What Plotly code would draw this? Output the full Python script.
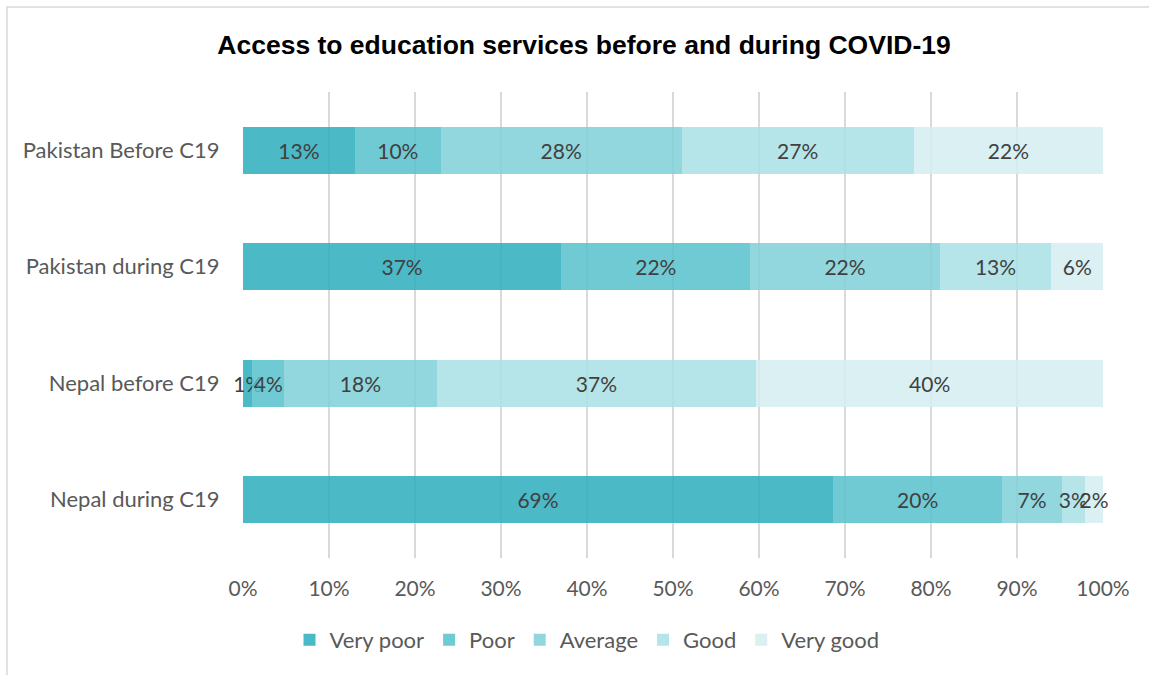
import plotly.graph_objects as go

# Share of respondents rating their access to education services (%)
categories = ["Pakistan Before C19", "Pakistan during C19", "Nepal before C19", "Nepal during C19"]
ratings = ["Very poor", "Poor", "Average", "Good", "Very good"]
very_poor = [13.0, 37.0, 1.1, 68.6]
poor = [10.0, 22.0, 3.7, 19.7]
average = [28.0, 22.0, 17.7, 6.9]
good = [27.0, 13.0, 37.2, 2.7]
very_good = [22.0, 6.0, 40.3, 2.1]
x_ticks = [0, 10, 20, 30, 40, 50, 60, 70, 80, 90, 100]

series = [very_poor, poor, average, good, very_good]
# semi-transparent teal shades so the gridlines show faintly through the bars
colors = [
    "rgba(43,173,188,0.85)",
    "rgba(87,193,205,0.85)",
    "rgba(127,208,216,0.85)",
    "rgba(169,224,229,0.85)",
    "rgba(211,237,240,0.85)",
]

FONT = "Lato, Open Sans, sans-serif"

fig = go.Figure()
for name, vals, col in zip(ratings, series, colors):
    fig.add_trace(go.Bar(
        y=categories,
        x=vals,
        name=name,
        orientation="h",
        marker=dict(color=col, line=dict(width=0)),
        width=0.4,
        text=vals,
        texttemplate="%{x:.0f}%",
        textposition="inside",
        insidetextanchor="middle",
        textangle=0,
        constraintext="none",
        cliponaxis=False,
        textfont=dict(family=FONT, size=21, color="#404040"),
        hoverinfo="skip",
    ))

fig.update_layout(
    barmode="stack",
    width=1149,
    height=675,
    margin=dict(l=243, r=46, t=92, b=117),
    paper_bgcolor="white",
    plot_bgcolor="white",
    title=dict(
        text="<b>Access to education services before and during COVID-19</b>",
        x=584 / 1149,
        xanchor="center",
        xref="container",
        y=1 - 45 / 675,
        yanchor="middle",
        yref="container",
        font=dict(family="Liberation Sans, Arial, sans-serif", size=26.5, color="#000000"),
    ),
    uniformtext=dict(minsize=21, mode="show"),
    showlegend=True,
    legend=dict(
        orientation="h",
        xref="container",
        yref="container",
        x=587 / 1149,
        xanchor="center",
        y=1 - 640 / 675,
        yanchor="middle",
        font=dict(family=FONT, size=22, color="#595959"),
        traceorder="normal",
        itemwidth=30,
    ),
    shapes=[
        dict(
            type="rect",
            xref="paper", yref="paper",
            x0=(7 - 243) / 860, x1=(1170 - 243) / 860,
            y0=(558 - 700) / 466, y1=(558 - 7) / 466,
            line=dict(color="#D9D9D9", width=1.5),
            fillcolor="rgba(0,0,0,0)",
            layer="below",
        )
    ],
)

fig.update_xaxes(
    range=[0, 100],
    tickvals=x_ticks,
    ticktext=[f"{v}%" for v in x_ticks],
    showgrid=True,
    gridcolor="#D9D9D9",
    gridwidth=1.5,
    zeroline=False,
    showline=False,
    ticks="outside",
    ticklen=12,
    tickcolor="rgba(0,0,0,0)",
    tickfont=dict(family=FONT, size=21, color="#595959"),
    fixedrange=True,
)
fig.update_yaxes(
    categoryorder="array",
    categoryarray=categories[::-1],
    showgrid=False,
    zeroline=False,
    showline=False,
    ticks="outside",
    ticklen=18,
    tickcolor="rgba(0,0,0,0)",
    tickfont=dict(family=FONT, size=22, color="#595959"),
    fixedrange=True,
)

fig.write_html("out.html", config={"displayModeBar": False})
